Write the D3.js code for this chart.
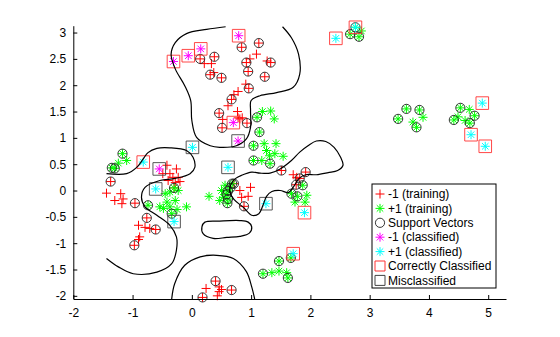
<!DOCTYPE html>
<html>
<head>
<meta charset="utf-8">
<script src="https://cdn.jsdelivr.net/npm/d3@7"></script>
<style>
  body { margin: 0; background: #fff; }
  svg { display: block; font-family: "Liberation Sans", Arial, sans-serif; }
</style>
</head>
<body>
<svg id="chart" width="560" height="337"></svg>
<script>
// Training class -1: [x, y, isSupportVector]
const trainNeg = [
  [0.38,2.54,1],[0.14,2.50,1],[0.31,2.20,1],[0.50,2.14,1],[0.33,2.41,0],[0.37,2.24,0],[0.21,2.41,0],
  [0.84,2.72,1],[1.13,2.80,1],[1.09,2.59,0],[0.92,2.43,1],[0.98,2.50,0],[1.33,2.43,1],[1.27,2.46,0],
  [0.95,2.26,1],[1.23,2.16,1],[0.91,2.02,0],[0.96,1.94,1],[0.78,1.88,0],[0.71,1.82,0],[0.67,1.73,1],
  [0.61,1.61,0],[0.46,1.47,1],[0.52,1.35,0],[0.77,1.50,0],[0.78,1.38,0],[0.81,1.36,0],[0.85,1.38,0],
  [0.51,1.19,1],[0.93,1.28,1],
  [1.51,0.38,1],[1.71,0.30,0],[1.92,0.35,1],[1.77,0.25,0],[1.82,0.23,1],[1.76,0.11,1],
  [0.71,0.13,1],[0.81,0.00,0],[0.99,0.06,0],[0.84,-0.13,0],[0.95,-0.11,0],[0.88,-0.30,1],
  [-1.37,0.17,1],[-1.44,-0.05,0],[-1.20,-0.06,0],[-1.30,-0.19,0],[-1.16,-0.16,0],[-1.18,-0.25,0],
  [-0.96,-0.24,1],[-0.42,0.48,0],[-0.26,0.41,0],[-0.49,0.32,0],[-0.37,0.32,0],[-0.32,0.25,0],
  [-0.40,0.19,0],[-0.23,0.25,0],[-0.20,0.17,0],[-0.28,0.15,0],[-0.30,0.05,1],
  [-0.76,-0.52,1],[-0.90,-0.66,0],[-0.79,-0.70,0],[-0.71,-0.72,0],[-0.61,-0.74,1],[-0.88,-0.88,0],
  [-0.90,-0.93,0],[-0.97,-1.04,1],
  [0.40,-1.72,1],[0.24,-1.86,0],[0.46,-1.83,0],[0.50,-1.88,0],[0.46,-1.92,0],[0.43,-2.00,0],
  [0.67,-1.89,1],[0.18,-2.03,1]
];

// Training class +1: [x, y, isSupportVector]
const trainPos = [
  [2.67,2.97,1],[2.82,2.92,1],[2.86,3.03,0],[2.76,3.10,1],
  [3.62,1.55,1],[3.84,1.53,1],[3.48,1.36,1],[3.90,1.39,0],[3.73,1.30,0],[3.79,1.20,1],
  [4.53,1.57,1],[4.68,1.54,0],[4.77,1.42,1],[4.42,1.34,1],[4.49,1.40,0],[4.69,1.28,1],[4.61,1.33,0],
  [1.10,1.39,1],[1.19,1.50,0],[1.33,1.51,0],[1.39,1.36,0],[1.14,1.11,1],[1.04,0.85,1],[1.22,0.89,0],
  [1.42,0.89,0],[1.04,0.57,1],[1.18,0.57,0],[1.26,0.76,0],[1.31,0.66,0],[1.40,0.70,0],[1.54,0.65,0],
  [1.32,0.51,1],
  [0.68,0.13,1],[0.65,0.05,1],[0.61,-0.01,1],[0.59,-0.07,1],[0.61,-0.16,1],[0.60,-0.24,1],
  [0.50,0.00,0],[0.53,-0.13,0],[0.47,-0.19,0],[0.29,-0.11,0],[0.56,0.10,0],
  [1.87,0.10,1],[1.68,-0.06,1],[1.78,-0.11,1],[1.94,-0.09,0],[1.91,-0.22,0],[1.74,-0.22,0],
  [-1.17,0.70,1],[-1.10,0.57,0],[-1.35,0.43,1],[-1.30,0.42,1],[-1.24,0.52,0],[-0.74,-0.28,1],
  [-0.34,-0.44,1],[-0.30,0.05,0],
  [-0.45,-0.06,0],[-0.37,-0.03,0],[-0.23,0.00,0],[-0.42,-0.22,0],[-0.28,-0.19,0],[-0.54,-0.31,0],
  [-0.37,-0.31,0],[-0.09,-0.31,0],[-0.48,-0.34,0],[-0.25,-0.36,0],
  [1.47,-1.34,1],[1.67,-1.28,1],[1.20,-1.58,1],[1.35,-1.56,0],[1.47,-1.53,0],[1.60,-1.56,0],[1.62,-1.66,1]
];

// Test points assigned to class -1: [x, y, correct]
const classNeg = [
  [0.79,2.94,1],[0.15,2.69,1],[-0.06,2.56,1],[-0.31,2.45,1],[0.70,1.29,1],
  [0.78,0.94,0],[-0.55,0.41,0]
];

// Test points assigned to class +1: [x, y, correct]
const classPos = [
  [2.43,2.89,1],[2.76,3.10,1],[4.90,1.66,1],[4.71,1.06,1],[4.95,0.84,1],
  [0.01,0.82,0],[-0.82,0.54,1],[-0.61,0.03,0],[-0.30,-0.59,0],[1.25,-0.25,0],
  [0.61,0.44,0],[1.90,-0.42,1],[1.71,-1.20,1]
];

// Decision boundary pieces (zero contour of the classifier)
const boundaryOpen = [
  [[0.57,3.11],[0.25,3.06],[-0.09,2.98],[-0.28,2.81],[-0.35,2.59],[-0.28,2.31],[-0.12,1.99],
   [-0.02,1.71],[0.00,1.33],[0.08,1.01],[0.31,0.85],[0.47,0.82],[0.75,0.85],[0.92,0.98],[0.99,1.20],
   [0.99,1.52],[1.00,1.71],[1.15,1.80],[1.43,1.86],[1.71,1.96],[1.82,2.21],[1.80,2.59],[1.68,2.90],[1.53,3.11]],
  [[-1.44,0.32],[-1.10,0.32],[-0.93,0.44],[-0.82,0.60],[-0.74,0.72],[-0.59,0.80],[-0.37,0.81],
   [-0.09,0.76],[0.02,0.63],[0.05,0.44],[-0.03,0.32],[-0.28,0.23],[-0.54,0.19],[-0.79,0.06],
   [-0.85,-0.13],[-0.79,-0.31],[-0.59,-0.47],[-0.37,-0.66],[-0.26,-0.88],[-0.26,-1.13],[-0.34,-1.39],
   [-0.59,-1.55],[-0.99,-1.58],[-1.24,-1.45],[-1.44,-1.29]],
  [[-0.34,-2.06],[-0.29,-1.77],[-0.12,-1.42],[0.14,-1.26],[0.42,-1.23],[0.70,-1.29],[0.92,-1.54],
   [1.01,-1.83],[1.06,-2.06]]
];
const boundaryClosed = [
  [[0.66,0.12],[0.74,0.23],[0.84,0.29],[1.01,0.35],[1.15,0.33],[1.32,0.33],[1.49,0.41],[1.68,0.57],
   [1.82,0.73],[1.96,0.85],[2.10,0.94],[2.26,0.93],[2.40,0.82],[2.51,0.63],[2.55,0.48],[2.46,0.38],
   [2.30,0.34],[2.10,0.30],[1.92,0.30],[1.81,0.23],[1.72,0.08],[1.63,-0.04],[1.49,0.00],[1.35,-0.02],
   [1.26,-0.11],[1.20,-0.28],[1.13,-0.44],[1.01,-0.47],[0.87,-0.32],[0.71,-0.17],[0.64,-0.02]],
  [[0.17,-0.69],[0.22,-0.60],[0.47,-0.58],[0.81,-0.57],[0.95,-0.60],[1.01,-0.69],[0.97,-0.81],
   [0.81,-0.87],[0.59,-0.89],[0.36,-0.91],[0.19,-0.82]]
];

const xTicks = [-2,-1,0,1,2,3,4,5];
const yTicks = [-2,-1.5,-1,-0.5,0,0.5,1,1.5,2,2.5,3];
const legendLabels = ["-1 (training)","+1 (training)","Support Vectors","-1 (classified)",
                      "+1 (classified)","Correctly Classified","Misclassified"];

const svg = d3.select("#chart");
const m = {left: 73.3, top: 25.7, right: 506, bottom: 299};
const x = d3.scaleLinear().domain([-2, 5.3]).range([m.left, m.right]);
const y = d3.scaleLinear().domain([-2.06, 3.13]).range([m.bottom, m.top]);

const RED = "#ff0000", GREEN = "#00ff00", MAG = "#ff00ff", CYAN = "#00ffff";

svg.append("defs").append("clipPath").attr("id", "plotclip")
  .append("rect").attr("x", m.left).attr("y", m.top)
  .attr("width", m.right - m.left).attr("height", m.bottom - m.top);

// markers are drawn unclipped; only the boundary curves are clipped to the axes box
const plot = svg.append("g");
const curves = svg.append("g").attr("clip-path", "url(#plotclip)");

// marker shapes
const plusPath = r => `M${-r},0H${r}M0,${-r}V${r}`;
const starPath = r => {
  const d = r * 0.72;
  return `M${-r},0H${r}M0,${-r}V${r}M${-d},${-d}L${d},${d}M${-d},${d}L${d},${-d}`;
};
const squarePath = s => `M${-s},${-s}H${s}V${s}H${-s}Z`;

// training points
plot.append("g").selectAll("path").data(trainNeg).join("path")
  .attr("transform", d => `translate(${x(d[0])},${y(d[1])})`)
  .attr("d", plusPath(4.5)).attr("stroke", RED).attr("stroke-width", 1).attr("fill", "none");
plot.append("g").selectAll("path").data(trainPos).join("path")
  .attr("transform", d => `translate(${x(d[0])},${y(d[1])})`)
  .attr("d", starPath(4.5)).attr("stroke", GREEN).attr("stroke-width", 1).attr("fill", "none");

// support vectors
const sv = trainNeg.concat(trainPos).filter(d => d[2] === 1);
plot.append("g").selectAll("circle").data(sv).join("circle")
  .attr("cx", d => x(d[0])).attr("cy", d => y(d[1])).attr("r", 4.6)
  .attr("fill", "none").attr("stroke", "#222").attr("stroke-width", 0.9);

// classified test points
plot.append("g").selectAll("path").data(classNeg).join("path")
  .attr("transform", d => `translate(${x(d[0])},${y(d[1])})`)
  .attr("d", starPath(4.5)).attr("stroke", MAG).attr("stroke-width", 1).attr("fill", "none");
plot.append("g").selectAll("path").data(classPos).join("path")
  .attr("transform", d => `translate(${x(d[0])},${y(d[1])})`)
  .attr("d", starPath(4.5)).attr("stroke", CYAN).attr("stroke-width", 1).attr("fill", "none");

const tested = classNeg.concat(classPos);
plot.append("g").selectAll("path").data(tested).join("path")
  .attr("transform", d => `translate(${x(d[0])},${y(d[1])})`)
  .attr("d", squarePath(6.3))
  .attr("stroke", d => d[2] ? "#f33" : "#444").attr("stroke-width", 0.9).attr("fill", "none");

// decision boundary
const lineOpen = d3.line().x(d => x(d[0])).y(d => y(d[1])).curve(d3.curveCatmullRom.alpha(0.5));
const lineClosed = d3.line().x(d => x(d[0])).y(d => y(d[1])).curve(d3.curveCatmullRomClosed.alpha(0.5));
curves.append("g").selectAll("path").data(boundaryOpen).join("path")
  .attr("d", lineOpen).attr("fill", "none").attr("stroke", "#000").attr("stroke-width", 1.2);
curves.append("g").selectAll("path").data(boundaryClosed).join("path")
  .attr("d", lineClosed).attr("fill", "none").attr("stroke", "#000").attr("stroke-width", 1.2);

// axes
const xAxis = d3.axisBottom(x).tickValues(xTicks).tickSizeInner(-4).tickSizeOuter(0).tickPadding(9);
const yAxis = d3.axisLeft(y).tickValues(yTicks).tickSizeInner(-4).tickSizeOuter(0).tickPadding(7)
  .tickFormat(d3.format("~g"));
const gx = svg.append("g").attr("transform", `translate(0,${m.bottom})`).call(xAxis);
const gy = svg.append("g").attr("transform", `translate(${m.left},0)`).call(yAxis);
[gx, gy].forEach(g => {
  g.selectAll("text").attr("font-size", 12).attr("fill", "#000")
   .attr("font-family", "Liberation Sans, Arial, sans-serif");
  g.selectAll("line").attr("stroke", "#000");
  g.select(".domain").attr("stroke", "#000");
});
gx.selectAll(".tick text").text(d => d < 0 ? "-" + Math.abs(d) : d);
gy.selectAll(".tick text").text(d => d < 0 ? "-" + Math.abs(d) : d);

// legend
const lg = svg.append("g");
const lx = 372, ly = 184, lw = 124, lh = 104;
lg.append("rect").attr("x", lx).attr("y", ly).attr("width", lw).attr("height", lh)
  .attr("fill", "#fff").attr("stroke", "#000").attr("stroke-width", 1);
const symbols = [
  {d: plusPath(4.5), c: RED}, {d: starPath(4.5), c: GREEN}, {circle: true, c: "#222"},
  {d: starPath(4.5), c: MAG}, {d: starPath(4.5), c: CYAN},
  {d: squarePath(5), c: "#f33"}, {d: squarePath(5), c: "#444"}
];
legendLabels.forEach((t, i) => {
  const cy = ly + 10 + i * 14.4;
  const s = symbols[i];
  if (s.circle) {
    lg.append("circle").attr("cx", lx + 8).attr("cy", cy).attr("r", 4.6)
      .attr("fill", "none").attr("stroke", s.c).attr("stroke-width", 0.9);
  } else {
    lg.append("path").attr("transform", `translate(${lx + 8},${cy})`).attr("d", s.d)
      .attr("fill", "none").attr("stroke", s.c).attr("stroke-width", 1);
  }
  lg.append("text").attr("x", lx + 16).attr("y", cy).attr("dy", "0.35em")
    .attr("font-size", 12).attr("fill", "#000").text(t);
});
</script>
</body>
</html>
